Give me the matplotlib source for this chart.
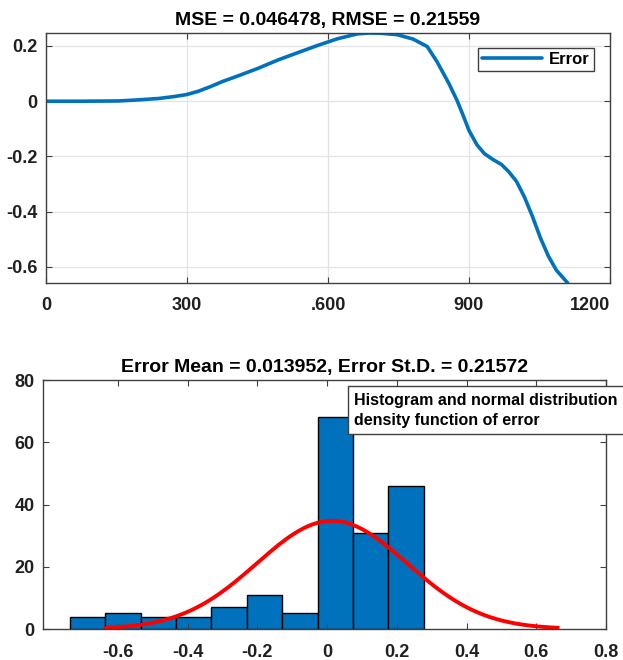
import numpy as np
import matplotlib
matplotlib.use("Agg")
import matplotlib.pyplot as plt
from matplotlib.patches import Rectangle

plt.rcParams["font.family"] = ["Liberation Sans", "DejaVu Sans"]
plt.rcParams["font.weight"] = "bold"

# ── data: error curve ─────────────────────────────────────────
err_x = [0, 70, 155, 197, 240, 273, 299, 324, 350, 375, 409, 451, 493, 536,
         578, 620, 663, 688, 713, 747, 781, 811, 832, 857, 874, 887, 900,
         917, 933, 950, 969, 984, 1001, 1018, 1035, 1052, 1069, 1086, 1110]
err_y = [0.0, 0.0, 0.001, 0.005, 0.010, 0.017, 0.024, 0.036, 0.053, 0.071,
         0.092, 0.119, 0.149, 0.176, 0.202, 0.226, 0.244, 0.247, 0.246,
         0.241, 0.225, 0.198, 0.143, 0.065, 0.005, -0.049, -0.106, -0.158,
         -0.190, -0.210, -0.229, -0.254, -0.290, -0.347, -0.417, -0.495,
         -0.561, -0.612, -0.658]
top_xticks = [0, 300, 600, 900, 1200]
top_xlabels = ["0", "300", ".600", "900", "1200"]
top_yticks = [-0.6, -0.4, -0.2, 0, 0.2]
top_ylabels = ["-0.6", "-0.4", "-0.2", "0", "0.2"]

# ── data: histogram of error ──────────────────────────────────
bin_edges = [-0.738, -0.636, -0.535, -0.433, -0.332, -0.230, -0.128,
             -0.027, 0.075, 0.176, 0.278]
bin_counts = [4, 5, 4, 4, 7, 11, 5, 68, 31, 46]
err_mean = 0.013952
err_std = 0.21572
bot_xticks = [-0.6, -0.4, -0.2, 0, 0.2, 0.4, 0.6, 0.8]
bot_xlabels = ["-0.6", "-0.4", "-0.2", "0", "0.2", "0.4", "0.6", "0.8"]
bot_yticks = [0, 20, 40, 60, 80]

BLUE = "#0072BD"
AXC = "#404040"
W, H = 623, 660


def style_axes(ax):
    for s in ax.spines.values():
        s.set_color(AXC)
        s.set_linewidth(1.0)
    ax.tick_params(direction="in", length=4, width=0.8, color=AXC,
                   top=True, right=True, labelsize=13, labelcolor="#202020")
    for lab in ax.get_xticklabels() + ax.get_yticklabels():
        lab.set_fontweight("bold")


fig = plt.figure(figsize=(W / 100, H / 100), dpi=100)

# ── top: error over samples ───────────────────────────────────
ax1 = fig.add_axes([46 / W, (H - 283) / H, 564 / W, 250 / H])
ax1.plot(err_x, err_y, color=BLUE, lw=2.6, label="Error", solid_capstyle="round")
ax1.set_xlim(0, 1200)
ax1.set_ylim(min(err_y), max(err_y))
ax1.set_xticks(top_xticks, top_xlabels)
ax1.set_yticks(top_yticks, top_ylabels)
ax1.grid(True, color="#e3e3e3", lw=0.9)
ax1.set_axisbelow(True)
ax1.tick_params(axis="x", pad=10)
ax1.tick_params(axis="y", pad=6)
style_axes(ax1)
ax1.get_xticklabels()[-1].set_horizontalalignment("right")  # keep "1200" inside
ax1.set_title("MSE = 0.046478, RMSE = 0.21559", fontsize=14,
              fontweight="bold", pad=6)
leg = ax1.legend(loc="upper right", bbox_to_anchor=(0.9716, 0.94),
                 borderaxespad=0, fancybox=False, framealpha=1,
                 edgecolor=AXC, handlelength=3.6, handletextpad=0.4,
                 borderpad=0.25, prop={"size": 12, "weight": "bold"})
leg.get_frame().set_linewidth(1.0)

# ── bottom: histogram + normal density ────────────────────────
ax2 = fig.add_axes([43 / W, 31 / H, 563 / W, 249 / H])
widths = np.diff(bin_edges)
ax2.bar(bin_edges[:-1], bin_counts, width=widths, align="edge",
        color=BLUE, edgecolor="black", linewidth=1.0)
bw = float(np.mean(widths))
xs = np.linspace(err_mean - 3 * err_std, err_mean + 3 * err_std, 200)
pdf = np.exp(-0.5 * ((xs - err_mean) / err_std) ** 2) / (err_std * np.sqrt(2 * np.pi))
ax2.plot(xs, pdf * sum(bin_counts) * bw, color="red", lw=2.8)
ax2.set_xlim(-0.815, 0.8)
ax2.set_ylim(0, 80)
ax2.set_xticks(bot_xticks, bot_xlabels)
ax2.set_yticks(bot_yticks)
ax2.tick_params(axis="x", pad=11)
ax2.tick_params(axis="y", pad=6)
style_axes(ax2)
ax2.set_title("Error Mean = 0.013952, Error St.D. = 0.21572", fontsize=14,
              fontweight="bold", pad=6)

# text box running off the right edge, as in the reference
fig.patches.append(Rectangle((347.6 / W, (H - 434) / H), 300 / W, 48 / H,
                             transform=fig.transFigure, facecolor="white",
                             edgecolor=AXC, lw=1.0, zorder=5))
fig.text(354 / W, (H - 405) / H, "Histogram and normal distribution",
         fontsize=11.5, fontweight="bold", zorder=6, va="baseline")
fig.text(354 / W, (H - 425) / H, "density function of error",
         fontsize=11.5, fontweight="bold", zorder=6, va="baseline")

fig.savefig("out.png", dpi=100)
